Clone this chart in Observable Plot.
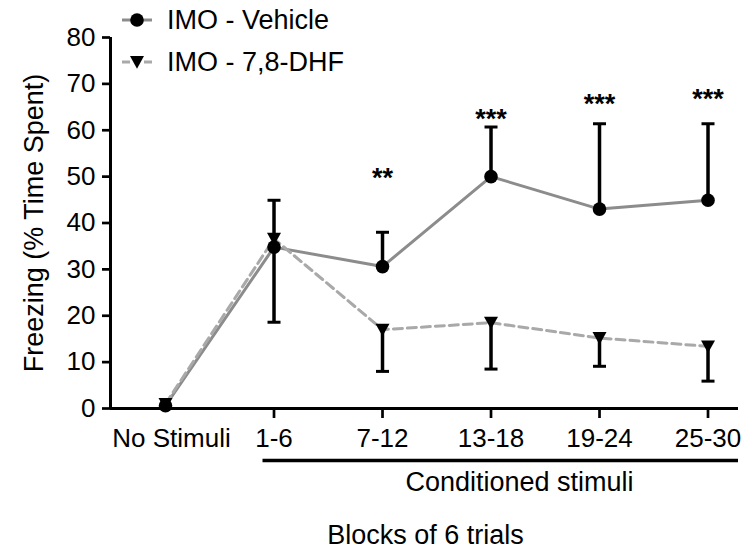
<!DOCTYPE html>
<html><head><meta charset="utf-8">
<script src="https://cdn.jsdelivr.net/npm/d3@7"></script>
<script src="https://cdn.jsdelivr.net/npm/@observablehq/plot@0.6"></script>
<style>
body{margin:0;background:#fff;}
#wrap{position:relative;width:753px;height:549px;font-family:"Liberation Sans",Arial,sans-serif;}
#legend{position:absolute;left:0;top:0;}
</style></head><body><div id="wrap"></div>
<script>
const categories = ["No Stimuli", "1-6", "7-12", "13-18", "19-24", "25-30"];
const vehicleMean  = [0.6, 34.8, 30.6, 50.0, 43.0, 44.9];
const vehicleUpper = [null, 44.9, 38.0, 60.7, 61.4, 61.4];
const dhfMean      = [1.0, 36.6, 17.0, 18.5, 15.2, 13.4];
const dhfLower     = [null, 18.6, 8.0, 8.5, 9.1, 5.9];
const sigLabels    = ["", "", "**", "***", "***", "***"];
const sigY         = [null, null, 51.2, 63.9, 67.1, 68.2];
const yTicks       = [0, 10, 20, 30, 40, 50, 60, 70, 80];
const legendLabels = ["IMO - Vehicle", "IMO - 7,8-DHF"];
const yLabel = "Freezing (% Time Spent)";
const xLabel = "Blocks of 6 trials";
const groupLabel = "Conditioned stimuli";

const xDomain = [-0.507, 5.281];
const FONT = "Liberation Sans, Arial, sans-serif";

const tri = {draw(ctx, size){ const r = Math.sqrt(size/Math.PI); ctx.moveTo(-r,-r*0.85); ctx.lineTo(r,-r*0.85); ctx.lineTo(0,r*0.95); ctx.closePath(); }};
const cap = {draw(ctx, size){ const r = Math.sqrt(size/Math.PI); ctx.moveTo(-r,0); ctx.lineTo(r,0); }};

const rows = categories.map((c,i)=>({i, c, vm: vehicleMean[i], vu: vehicleUpper[i], dm: dhfMean[i], dl: dhfLower[i], sig: sigLabels[i], sy: sigY[i]}));
const errV = rows.filter(d=>d.vu!=null);
const errD = rows.filter(d=>d.dl!=null);
const sig = rows.filter(d=>d.sig);

const chart = Plot.plot({
  width: 753, height: 549,
  marginLeft: 110, marginRight: 15, marginTop: 37, marginBottom: 141,
  style: {fontFamily: FONT, fontSize: "26px", color: "#000", background: "transparent", overflow: "visible"},
  x: {domain: xDomain, axis: null},
  y: {domain: [0, 80], axis: null},
  marks: [
    Plot.axisY({ticks: yTicks, tickFormat: d=>d, tickSize: 8, tickPadding: 7, strokeWidth: 2.7, fontSize: 26, label: null}),
    Plot.axisX({ticks: [1,2,3,4,5], tickFormat: i=>categories[i], tickSize: 10, tickPadding: 10, strokeWidth: 2.7, fontSize: 26, label: null}),
    Plot.axisX({ticks: [0], tickFormat: i=>categories[i], tickSize: 0, tickPadding: 20, dx: 6, fontSize: 26, label: null}),
    Plot.ruleX([xDomain[0]], {strokeWidth: 3}),
    Plot.ruleY([0], {strokeWidth: 3}),
    Plot.text([yLabel], {frameAnchor: "left", text: d=>d, rotate: -90, dx: -76, fontSize: 27, lineAnchor: "middle", textAnchor: "middle"}),
    Plot.ruleY([0], {x1: 1, x2: xDomain[1], insetLeft: -11, dy: 52, strokeWidth: 3.5}),
    Plot.text([groupLabel], {frameAnchor: "bottom", text: d=>d, dx: 95, dy: 74, fontSize: 27, lineAnchor: "middle"}),
    Plot.text([xLabel], {frameAnchor: "bottom", text: d=>d, dx: 1, dy: 127, fontSize: 27, lineAnchor: "middle"}),
    Plot.line(rows, {x: "i", y: "vm", stroke: "#8c8c8c", strokeWidth: 3}),
    Plot.line(rows, {x: "i", y: "dm", stroke: "#a9a9a9", strokeWidth: 3, strokeDasharray: "9,5"}),
    Plot.ruleX(errV, {x: "i", y1: "vm", y2: "vu", strokeWidth: 3.5}),
    Plot.dot(errV, {x: "i", y: "vu", symbol: cap, r: 6.5, stroke: "black", strokeWidth: 3, fill: "none"}),
    Plot.ruleX(errD, {x: "i", y1: "dm", y2: "dl", strokeWidth: 3.5}),
    Plot.dot(errD, {x: "i", y: "dl", symbol: cap, r: 6.5, stroke: "black", strokeWidth: 3, fill: "none"}),
    Plot.dot(rows, {x: "i", y: "dm", symbol: tri, r: 7, fill: "black", stroke: "none"}),
    Plot.dot(rows, {x: "i", y: "vm", r: 6.8, fill: "black", stroke: "none"}),
    Plot.text(sig, {x: "i", y: "sy", text: "sig", fontSize: 27, fontWeight: "bold", dy: 7})
  ]
});
const wrap = document.getElementById("wrap");
wrap.appendChild(chart);

// legend overlay
const lg = d3.select(wrap).append("svg").attr("id","legend").attr("width",400).attr("height",85)
  .style("font-family", FONT);
const rowsY = [20, 62];
legendLabels.forEach((lab, k) => {
  const y = rowsY[k];
  const g = lg.append("g");
  if (k === 0) {
    g.append("line").attr("x1",122).attr("x2",152).attr("y1",y).attr("y2",y).attr("stroke","#8c8c8c").attr("stroke-width",3);
    g.append("circle").attr("cx",137).attr("cy",y).attr("r",6.8).attr("fill","black");
  } else {
    g.append("line").attr("x1",122).attr("x2",130).attr("y1",y).attr("y2",y).attr("stroke","#a9a9a9").attr("stroke-width",3);
    g.append("line").attr("x1",144).attr("x2",152).attr("y1",y).attr("y2",y).attr("stroke","#a9a9a9").attr("stroke-width",3);
    g.append("path").attr("d", d3.symbol(tri, 7*7*Math.PI)()).attr("transform",`translate(137,${y})`).attr("fill","black");
  }
  g.append("text").attr("x",167).attr("y",y).attr("dy","0.35em").attr("font-size",27).attr("fill","#000").text(lab);
});
</script></body></html>
